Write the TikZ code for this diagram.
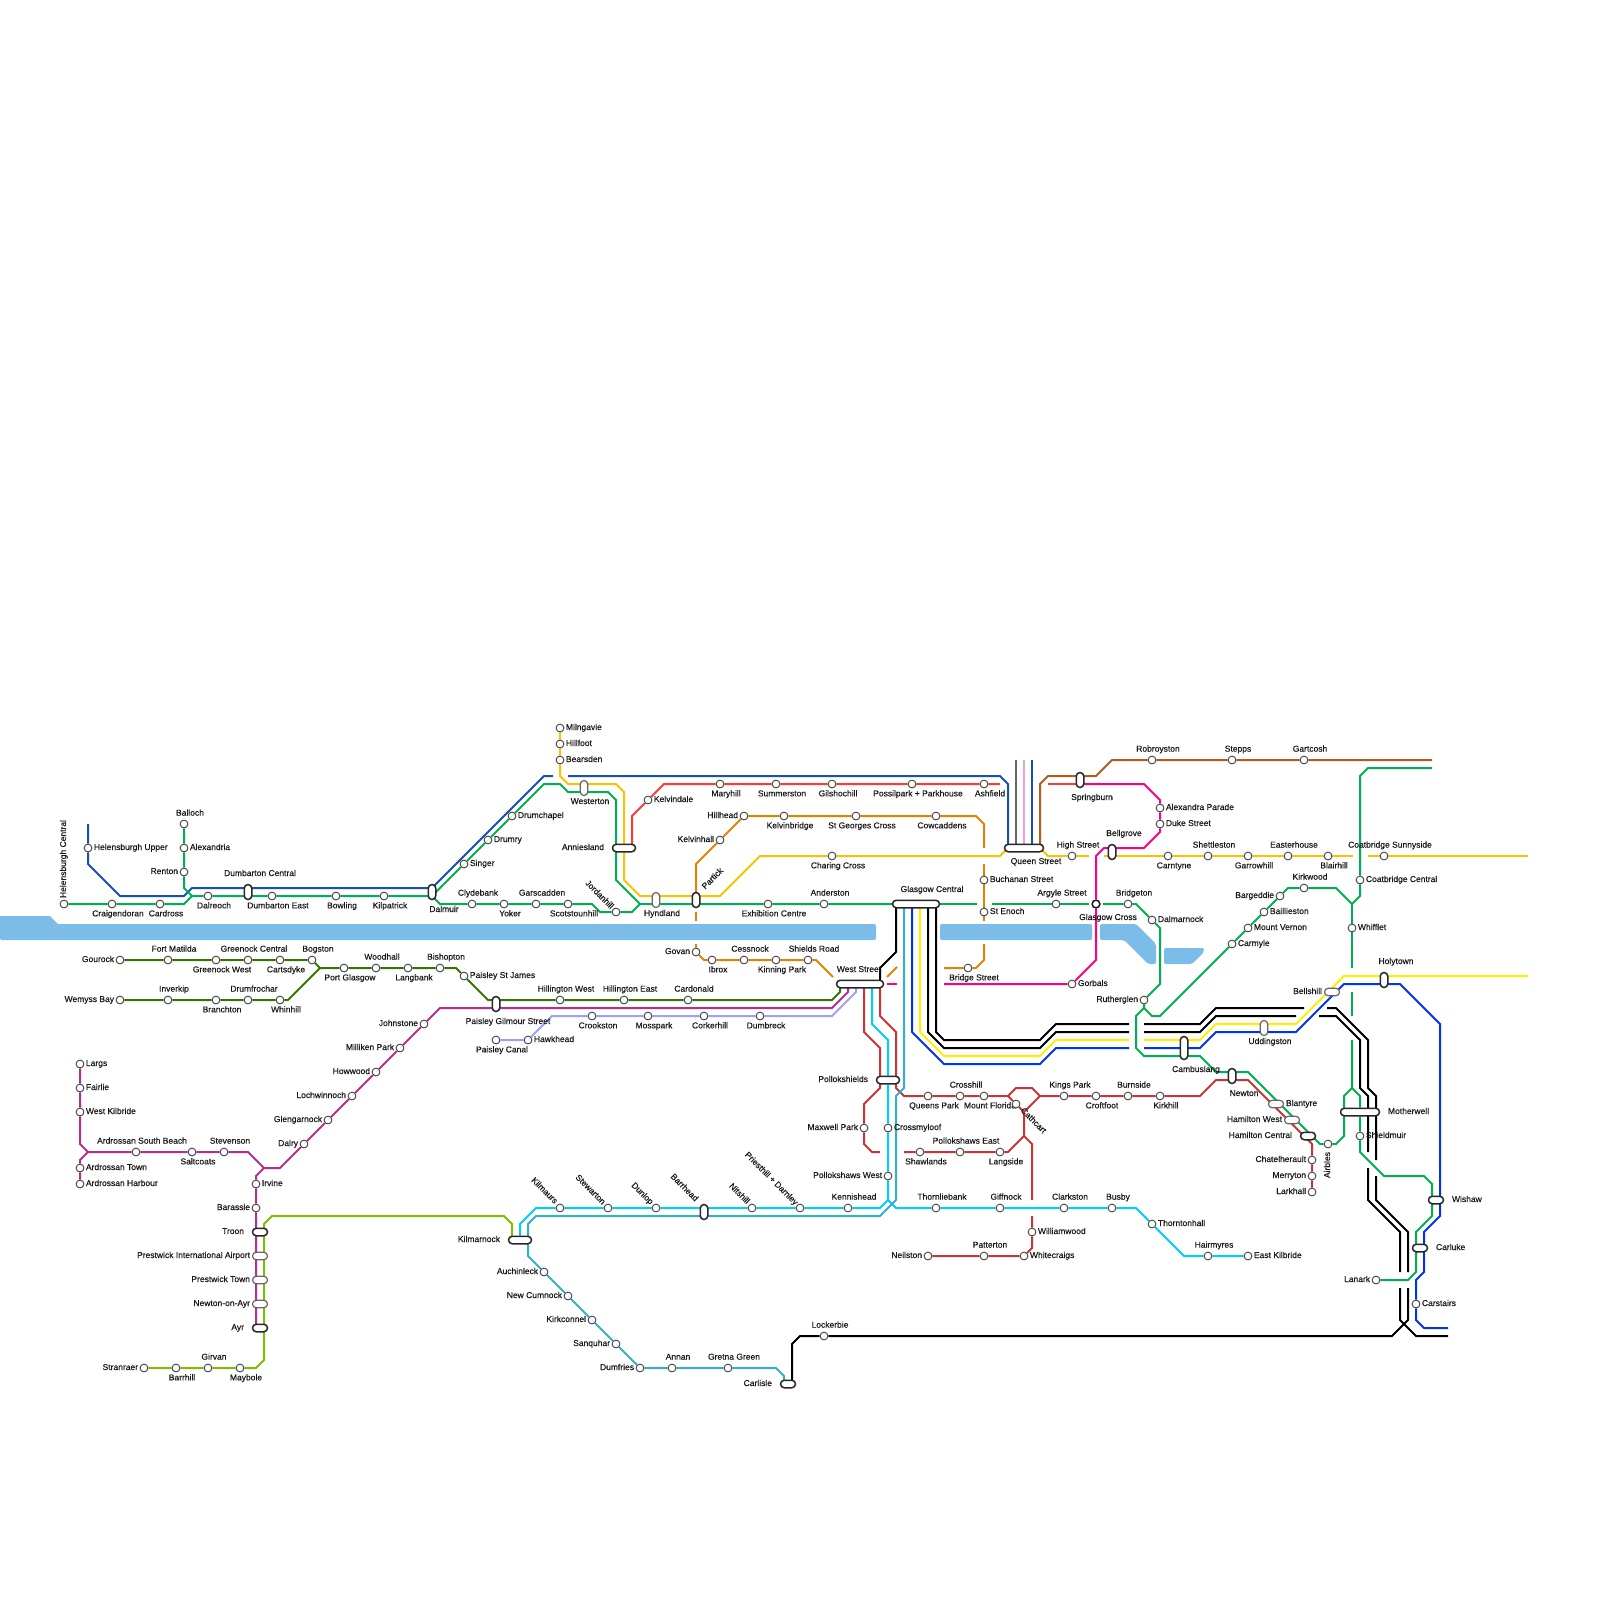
\documentclass[tikz,border=0pt]{standalone}
\usepackage{fontspec}
\setmainfont{Liberation Sans}
\newfontfamily\lblfont{Liberation Sans}[FakeBold=0.4]
\usetikzlibrary{calc, backgrounds}

\definecolor{waterC}{HTML}{7BBCE8}
\definecolor{greenM}{HTML}{00B050}
\definecolor{greenD}{HTML}{337700}
\definecolor{blueD}{HTML}{1450B8}
\definecolor{blueB}{HTML}{0033EE}
\definecolor{purpleM}{HTML}{B52E8C}
\definecolor{limeG}{HTML}{80BC00}
\definecolor{cyanL}{HTML}{00CCFF}
\definecolor{tealL}{HTML}{33AECC}
\definecolor{orangeL}{HTML}{E08400}
\definecolor{yellowO}{HTML}{FFC000}
\definecolor{yellowB}{HTML}{FFEE00}
\definecolor{redB}{HTML}{FF3B30}
\definecolor{redD}{HTML}{C93434}
\definecolor{pinkL}{HTML}{FF0080}
\definecolor{brownL}{HTML}{B85A1E}
\definecolor{periL}{HTML}{99A0FF}
\definecolor{lilacL}{HTML}{E8A0E0}
\definecolor{greyL}{HTML}{666666}

\begin{document}
\begin{tikzpicture}[x=1pt, y=-1pt,
  lbl/.style={font=\lblfont\fontsize{8.5}{9}\selectfont, inner sep=0, outer sep=0, yshift=-1,
              text height=6, text depth=2, text=black!90},
  stn/.style={circle, draw=black!75, line width=0.9, fill=white, inner sep=0,
              minimum size=7.8},
  lA/.style={label={[lbl, xshift=6, label distance=3]above:#1}},
  lB/.style={label={[lbl, xshift=6, label distance=1]below:#1}},
  lL/.style={label={[lbl, yshift=1, label distance=1.6]left:#1}},
  lR/.style={label={[lbl, yshift=1, label distance=1.6]right:#1}},
  pillK/.style={rectangle, rounded corners=3.7, draw=black!85, line width=1.5,
                fill=white, inner sep=0},
  pillG/.style={rectangle, rounded corners=3.7, draw=black!60, line width=1.2,
                fill=white, inner sep=0},
  hbar/.style={minimum width=#1, minimum height=7.5},
  vbar/.style={minimum width=7.5, minimum height=#1},
  ln/.style={draw=#1, line width=2}]
  \useasboundingbox (0,0) rectangle (1600,1600);

  % interchanges
  \node[pillK, vbar=15] (dumbC) at (248,892) {};
  \node[pillK, vbar=15] (dalmuir) at (432,892) {};
  \node[pillG, vbar=15] (westerton) at (584,788) {};
  \node[pillK, hbar=23] (anniesland) at (624,848) {};
  \node[pillG, vbar=15] (hyndland) at (656,900) {};
  \node[pillK, vbar=15] (partick) at (696,900) {};
  \node[pillK, hbar=47] (glasgowC) at (916,904) {};
  \node[pillK, hbar=47] (westSt) at (860,984) {};
  \node[pillK, hbar=39] (queenSt) at (1024,848) {};
  \node[pillK, vbar=15] (springburn) at (1080,780) {};
  \node[pillK, vbar=15] (bellgrove) at (1112,852) {};
  \node[pillK, vbar=15] (paisleyG) at (496,1004) {};
  \node[pillK, hbar=23] (pollokS) at (888,1080) {};
  \node[pillK, vbar=15] (barrhead) at (704,1212) {};
  \node[pillK, hbar=23] (kilmarnock) at (520,1240) {};
  \node[pillK, hbar=15] (carlisle) at (788,1384) {};
  \node[pillK, hbar=15] (troon) at (260,1232) {};
  \node[pillG, hbar=15] (prestI) at (260,1256) {};
  \node[pillG, hbar=15] (prestT) at (260,1280) {};
  \node[pillG, hbar=15] (newtonA) at (260,1304) {};
  \node[pillK, hbar=15] (ayr) at (260,1328) {};
  \node[pillG, hbar=15] (bellshill) at (1332,992) {};
  \node[pillK, vbar=15] (holytown) at (1384,980) {};
  \node[pillG, vbar=15] (uddingston) at (1264,1028) {};
  \node[pillK, vbar=23] (cambuslang) at (1184,1048) {};
  \node[pillK, vbar=15] (newton) at (1232,1076) {};
  \node[pillG, hbar=15] (blantyre) at (1276,1104) {};
  \node[pillG, hbar=15] (hamiltonW) at (1292,1120) {};
  \node[pillK, hbar=15] (hamiltonC) at (1308,1136) {};
  \node[pillK, hbar=39] (motherwell) at (1360,1112) {};
  \node[pillK, hbar=15] (wishaw) at (1436,1200) {};
  \node[pillK, hbar=15] (carluke) at (1420,1248) {};
  \node[stn, line width=1.5, draw=black!90] (glasgowX) at (1096,904) {};

  % interchange labels
  \node[lbl] (dumbCl) at (260,873) {Dumbarton Central};
  \node[lbl] (dalmuirl) at (444,909) {Dalmuir};
  \node[lbl] (westertonl) at (590,801) {Westerton};
  \node[lbl, anchor=east] (annieslandl) at (604,847) {Anniesland};
  \node[lbl] (hyndlandl) at (662,913) {Hyndland};
  \node[lbl, rotate=45] (partickl) at (713,878) {Partick};
  \node[lbl] (glasgowCl) at (932,889) {Glasgow Central};
  \node[lbl] (westStl) at (859,969) {West Street};
  \node[lbl] (queenStl) at (1036,861) {Queen Street};
  \node[lbl] (springburnl) at (1092,797) {Springburn};
  \node[lbl] (bellgrovel) at (1124,833) {Bellgrove};
  \node[lbl] (glasgowXl) at (1108,917) {Glasgow Cross};
  \node[lbl] (paisleyGl) at (508,1021) {Paisley Gilmour Street};
  \node[lbl, anchor=east] (pollokSl) at (868,1079) {Pollokshields};
  \node[lbl, rotate=-45] (barrheadl) at (684,1187) {Barrhead};
  \node[lbl, anchor=east] (kilmarnockl) at (500,1239) {Kilmarnock};
  \node[lbl, anchor=east] (carlislel) at (772,1383) {Carlisle};
  \node[lbl, anchor=east] (troonl) at (244,1231) {Troon};
  \node[lbl, anchor=east] (prestIl) at (250,1255) {Prestwick International Airport};
  \node[lbl, anchor=east] (prestTl) at (250,1279) {Prestwick Town};
  \node[lbl, anchor=east] (newtonAl) at (250,1303) {Newton-on-Ayr};
  \node[lbl, anchor=east] (ayrl) at (244,1327) {Ayr};
  \node[lbl, anchor=east] (bellshilll) at (1322,991) {Bellshill};
  \node[lbl] (holytownl) at (1396,961) {Holytown};
  \node[lbl] (uddingstonl) at (1270,1041) {Uddingston};
  \node[lbl] (cambuslangl) at (1196,1069) {Cambuslang};
  \node[lbl] (newtonl) at (1244,1093) {Newton};
  \node[lbl, anchor=west] (blantyrel) at (1286,1103) {Blantyre};
  \node[lbl, anchor=east] (hamiltonWl) at (1282,1119) {Hamilton West};
  \node[lbl, anchor=east] (hamiltonCl) at (1292,1135) {Hamilton Central};
  \node[lbl, anchor=west] (motherwelll) at (1388,1111) {Motherwell};
  \node[lbl, anchor=west] (wishawl) at (1452,1199) {Wishaw};
  \node[lbl, anchor=west] (carlukel) at (1436,1247) {Carluke};

  % north bank
  \node[stn] (helC) at (64,904) {};
  \node[lbl, rotate=90] (helCl) at (64,858) {Helensburgh Central};
  \node[stn, lR=Helensburgh Upper] (helU) at (88,848) {};
  \node[stn, lB=Craigendoran] (craig) at (112,904) {};
  \node[stn, lB=Cardross] (cardross) at (160,904) {};
  \node[stn, lA=Balloch] (balloch) at (184,824) {};
  \node[stn, lR=Alexandria] (alexandria) at (184,848) {};
  \node[stn, lL=Renton] (renton) at (184,872) {};
  \node[stn, lB=Dalreoch] (dalreoch) at (208,896) {};
  \node[stn, lB=Dumbarton East] (dumbE) at (272,896) {};
  \node[stn, lB=Bowling] (bowling) at (336,896) {};
  \node[stn, lB=Kilpatrick] (kilpatrick) at (384,896) {};
  \node[stn, lR=Singer] (singer) at (464,864) {};
  \node[stn, lR=Drumry] (drumry) at (488,840) {};
  \node[stn, lR=Drumchapel] (drumchapel) at (512,816) {};
  \node[stn, lA=Clydebank] (clydebank) at (472,904) {};
  \node[stn, lB=Yoker] (yoker) at (504,904) {};
  \node[stn, lA=Garscadden] (garscadden) at (536,904) {};
  \node[stn, lB=Scotstounhill] (scotstoun) at (568,904) {};
  \node[stn] (jordanhill) at (616,912) {};
  \node[lbl, rotate=-45] (jordanhilll) at (599,894) {Jordanhill};
  \node[stn, lR=Milngavie] (milngavie) at (560,728) {};
  \node[stn, lR=Hillfoot] (hillfoot) at (560,744) {};
  \node[stn, lR=Bearsden] (bearsden) at (560,760) {};
  \node[stn, lR=Kelvindale] (kelvindale) at (648,800) {};
  \node[stn, lB=Maryhill] (maryhill) at (720,784) {};
  \node[stn, lB=Summerston] (summerston) at (776,784) {};
  \node[stn, lB=Gilshochill] (gilshochill) at (832,784) {};
  \node[stn, lB=Possilpark + Parkhouse] (possilpark) at (912,784) {};
  \node[stn, lB=Ashfield] (ashfield) at (984,784) {};
  \node[stn, lL=Hillhead] (hillhead) at (744,816) {};
  \node[stn, lL=Kelvinhall] (kelvinhall) at (720,840) {};
  \node[stn, lB=Kelvinbridge] (kelvinbridge) at (784,816) {};
  \node[stn, lB=St Georges Cross] (stgeorges) at (856,816) {};
  \node[stn, lB=Cowcaddens] (cowcaddens) at (936,816) {};
  \node[stn, lB=Charing Cross] (charing) at (832,856) {};
  \node[stn, lB=Exhibition Centre] (exhibition) at (768,904) {};
  \node[stn, lA=Anderston] (anderston) at (824,904) {};
  \node[stn, lR=Buchanan Street] (buchanan) at (984,880) {};
  \node[stn, lR=St Enoch] (stenoch) at (984,912) {};
  \node[stn, lA=Argyle Street] (argyle) at (1056,904) {};
  \node[stn, lA=High Street] (highSt) at (1072,856) {};
  \node[stn, lB=Carntyne] (carntyne) at (1168,856) {};
  \node[stn, lA=Shettleston] (shettleston) at (1208,856) {};
  \node[stn, lB=Garrowhill] (garrowhill) at (1248,856) {};
  \node[stn, lA=Easterhouse] (easterhouse) at (1288,856) {};
  \node[stn, lB=Blairhill] (blairhill) at (1328,856) {};
  \node[stn, lA=Coatbridge Sunnyside] (sunnyside) at (1384,856) {};
  \node[stn, lA=Robroyston] (robroyston) at (1152,760) {};
  \node[stn, lA=Stepps] (stepps) at (1232,760) {};
  \node[stn, lA=Gartcosh] (gartcosh) at (1304,760) {};
  \node[stn, lR=Alexandra Parade] (alexandra) at (1160,808) {};
  \node[stn, lR=Duke Street] (duke) at (1160,824) {};
  \node[stn, lA=Bridgeton] (bridgeton) at (1128,904) {};
  \node[stn, lR=Dalmarnock] (dalmarnock) at (1152,920) {};
  \node[stn, lA=Kirkwood] (kirkwood) at (1304,888) {};
  \node[stn, lL=Bargeddie] (bargeddie) at (1280,896) {};
  \node[stn, lR=Baillieston] (baillieston) at (1264,912) {};
  \node[stn, lR=Mount Vernon] (mountV) at (1248,928) {};
  \node[stn, lR=Carmyle] (carmyle) at (1232,944) {};
  \node[stn, lR=Coatbridge Central] (coatbridgeC) at (1360,880) {};
  \node[stn, lR=Whifflet] (whifflet) at (1352,928) {};

  % south bank
  \node[stn, lL=Gourock] (gourock) at (120,960) {};
  \node[stn, lA=Fort Matilda] (fortM) at (168,960) {};
  \node[stn, lB=Greenock West] (greenockW) at (216,960) {};
  \node[stn, lA=Greenock Central] (greenockC) at (248,960) {};
  \node[stn, lB=Cartsdyke] (cartsdyke) at (280,960) {};
  \node[stn, lA=Bogston] (bogston) at (312,960) {};
  \node[stn, lB=Port Glasgow] (portG) at (344,968) {};
  \node[stn, lA=Woodhall] (woodhall) at (376,968) {};
  \node[stn, lB=Langbank] (langbank) at (408,968) {};
  \node[stn, lA=Bishopton] (bishopton) at (440,968) {};
  \node[stn, lR=Paisley St James] (paisleyJ) at (464,976) {};
  \node[stn, lL=Wemyss Bay] (wemyss) at (120,1000) {};
  \node[stn, lA=Inverkip] (inverkip) at (168,1000) {};
  \node[stn, lB=Branchton] (branchton) at (216,1000) {};
  \node[stn, lA=Drumfrochar] (drumfrochar) at (248,1000) {};
  \node[stn, lB=Whinhill] (whinhill) at (280,1000) {};
  \node[stn, lA=Hillington West] (hillW) at (560,1000) {};
  \node[stn, lA=Hillington East] (hillE) at (624,1000) {};
  \node[stn, lA=Cardonald] (cardonald) at (688,1000) {};
  \node[stn, lB=Paisley Canal] (paisleyC) at (496,1040) {};
  \node[stn, lR=Hawkhead] (hawkhead) at (528,1040) {};
  \node[stn, lB=Crookston] (crookston) at (592,1016) {};
  \node[stn, lB=Mosspark] (mosspark) at (648,1016) {};
  \node[stn, lB=Corkerhill] (corkerhill) at (704,1016) {};
  \node[stn, lB=Dumbreck] (dumbreck) at (760,1016) {};
  \node[stn, lL=Govan] (govan) at (696,952) {};
  \node[stn, lB=Ibrox] (ibrox) at (712,960) {};
  \node[stn, lA=Cessnock] (cessnock) at (744,960) {};
  \node[stn, lB=Kinning Park] (kinningP) at (776,960) {};
  \node[stn, lA=Shields Road] (shieldsR) at (808,960) {};
  \node[stn, lB=Bridge Street] (bridgeSt) at (968,968) {};
  \node[stn, lR=Gorbals] (gorbals) at (1072,984) {};
  \node[stn, lL=Rutherglen] (rutherglen) at (1144,1000) {};
  \node[stn, lL=Johnstone] (johnstone) at (424,1024) {};
  \node[stn, lL=Milliken Park] (milliken) at (400,1048) {};
  \node[stn, lL=Howwood] (howwood) at (376,1072) {};
  \node[stn, lL=Lochwinnoch] (lochwinnoch) at (352,1096) {};
  \node[stn, lL=Glengarnock] (glengarnock) at (328,1120) {};
  \node[stn, lL=Dalry] (dalry) at (304,1144) {};
  \node[stn, lR=Largs] (largs) at (80,1064) {};
  \node[stn, lR=Fairlie] (fairlie) at (80,1088) {};
  \node[stn, lR=West Kilbride] (westK) at (80,1112) {};
  \node[stn, lA=Ardrossan South Beach] (ardrossanS) at (136,1152) {};
  \node[stn, lB=Saltcoats] (saltcoats) at (192,1152) {};
  \node[stn, lA=Stevenson] (stevenson) at (224,1152) {};
  \node[stn, lR=Ardrossan Town] (ardrossanT) at (80,1168) {};
  \node[stn, lR=Ardrossan Harbour] (ardrossanH) at (80,1184) {};
  \node[stn, lR=Irvine] (irvine) at (256,1184) {};
  \node[stn, lL=Barassie] (barassie) at (256,1208) {};
  \node[stn, lL=Stranraer] (stranraer) at (144,1368) {};
  \node[stn, lB=Barrhill] (barrhill) at (176,1368) {};
  \node[stn, lA=Girvan] (girvan) at (208,1368) {};
  \node[stn, lB=Maybole] (maybole) at (240,1368) {};
  \node[stn] (kilmaurs) at (560,1208) {};
  \node[lbl, rotate=-45] (kilmaursl) at (544,1190) {Kilmaurs};
  \node[stn] (stewarton) at (608,1208) {};
  \node[lbl, rotate=-45] (stewartonl) at (590,1189) {Stewarton};
  \node[stn] (dunlop) at (656,1208) {};
  \node[lbl, rotate=-45] (dunlopl) at (642,1193) {Dunlop};
  \node[stn] (nitshill) at (752,1208) {};
  \node[lbl, rotate=-45] (nitshilll) at (739,1193) {Nitshill};
  \node[stn] (priesthill) at (800,1208) {};
  \node[lbl, rotate=-45] (priesthilll) at (771,1178) {Priesthill + Darnley};
  \node[stn, lA=Kennishead] (kennishead) at (848,1208) {};
  \node[stn, lL=Auchinleck] (auchinleck) at (544,1272) {};
  \node[stn, lL=New Cumnock] (cumnock) at (568,1296) {};
  \node[stn, lL=Kirkconnel] (kirkconnel) at (592,1320) {};
  \node[stn, lL=Sanquhar] (sanquhar) at (616,1344) {};
  \node[stn, lL=Dumfries] (dumfries) at (640,1368) {};
  \node[stn, lA=Annan] (annan) at (672,1368) {};
  \node[stn, lA=Gretna Green] (gretna) at (728,1368) {};
  \node[stn, lA=Lockerbie] (lockerbie) at (824,1336) {};
  \node[stn, lB=Queens Park] (queensP) at (928,1096) {};
  \node[stn, lA=Crosshill] (crosshill) at (960,1096) {};
  \node[stn, lB=Mount Florida] (mountF) at (984,1096) {};
  \node[stn] (cathcart) at (1016,1104) {};
  \node[lbl, rotate=-45] (cathcartl) at (1033,1120) {Cathcart};
  \node[stn, lA=Kings Park] (kingsP) at (1064,1096) {};
  \node[stn, lB=Croftfoot] (croftfoot) at (1096,1096) {};
  \node[stn, lA=Burnside] (burnside) at (1128,1096) {};
  \node[stn, lB=Kirkhill] (kirkhill) at (1160,1096) {};
  \node[stn, lL=Maxwell Park] (maxwellP) at (864,1128) {};
  \node[stn, lR=Crossmyloof] (crossmyloof) at (888,1128) {};
  \node[stn, lL=Pollokshaws West] (pollokW) at (888,1176) {};
  \node[stn, lB=Shawlands] (shawlands) at (920,1152) {};
  \node[stn, lA=Pollokshaws East] (pollokE) at (960,1152) {};
  \node[stn, lB=Langside] (langside) at (1000,1152) {};
  \node[stn, lA=Thornliebank] (thornliebank) at (936,1208) {};
  \node[stn, lA=Giffnock] (giffnock) at (1000,1208) {};
  \node[stn, lA=Clarkston] (clarkston) at (1064,1208) {};
  \node[stn, lA=Busby] (busby) at (1112,1208) {};
  \node[stn, lR=Thorntonhall] (thorntonhall) at (1152,1224) {};
  \node[stn, lA=Hairmyres] (hairmyres) at (1208,1256) {};
  \node[stn, lR=East Kilbride] (eastK) at (1248,1256) {};
  \node[stn, lL=Neilston] (neilston) at (928,1256) {};
  \node[stn, lA=Patterton] (patterton) at (984,1256) {};
  \node[stn, lR=Whitecraigs] (whitecraigs) at (1024,1256) {};
  \node[stn, lR=Williamwood] (williamwood) at (1032,1232) {};
  \node[stn] (airbles) at (1328,1144) {};
  \node[lbl, rotate=90] (airblesl) at (1328,1164) {Airbles};
  \node[stn, lL=Chatelherault] (chatelherault) at (1312,1160) {};
  \node[stn, lL=Merryton] (merryton) at (1312,1176) {};
  \node[stn, lL=Larkhall] (larkhall) at (1312,1192) {};
  \node[stn, lR=Shieldmuir] (shieldmuir) at (1360,1136) {};
  \node[stn, lL=Lanark] (lanark) at (1376,1280) {};
  \node[stn, lR=Carstairs] (carstairs) at (1416,1304) {};

  % free ends of the lines
  \coordinate (helTop) at (88,824);
  \coordinate (blueGapW) at (553,776);
  \coordinate (blueGapE) at (568,776);
  \coordinate (greyTop) at (1016,760);
  \coordinate (lilacTop) at (1024,760);
  \coordinate (blueTop) at (1032,760);
  \coordinate (brownEnd) at (1432,760);
  \coordinate (greenTop) at (1432,768);
  \coordinate (redEnd) at (1000,784);
  \coordinate (redStart) at (1048,784);
  \coordinate (cowEnd) at (984,848);
  \coordinate (buchTop) at (984,864);
  \coordinate (enochEnd) at (984,921);
  \coordinate (bridgeTop) at (984,944);
  \coordinate (bridgeEnd) at (944,968);
  \coordinate (orgA) at (887,977);
  \coordinate (orgB) at (897,967);
  \coordinate (orgC) at (833,977);
  \coordinate (partickTop) at (696,912);
  \coordinate (partickEnd) at (696,921);
  \coordinate (govanTop) at (696,944);
  \coordinate (pinkA) at (887,984);
  \coordinate (pinkB) at (897,984);
  \coordinate (pinkC) at (944,984);
  \coordinate (highEnd) at (1089,856);
  \coordinate (bellStart) at (1104,856);
  \coordinate (blairEnd) at (1353,856);
  \coordinate (sunnyStart) at (1368,856);
  \coordinate (sunnyEnd) at (1528,856);
  \coordinate (holyEnd) at (1528,976);
  \coordinate (centE) at (977,904);
  \coordinate (argyleW) at (992,904);
  \coordinate (argyleE) at (1089,904);
  \coordinate (bridgetonW) at (1103,904);
  \coordinate (whiffEnd) at (1352,968);
  \coordinate (dashA) at (1352,992);
  \coordinate (dashB) at (1352,1016);
  \coordinate (dashC) at (1352,1040);
  \coordinate (ka) at (1129,1024);
  \coordinate (kb) at (1129,1032);
  \coordinate (ya) at (1129,1040);
  \coordinate (ba) at (1129,1048);
  \coordinate (kaE) at (1144,1024);
  \coordinate (kbE) at (1144,1032);
  \coordinate (yaE) at (1144,1040);
  \coordinate (baE) at (1144,1048);
  \coordinate (kaF) at (1304,1008);
  \coordinate (kbF) at (1296,1016);
  \coordinate (kaG) at (1327,1008);
  \coordinate (kbG) at (1319,1016);
  \coordinate (kaH) at (1376,1160);
  \coordinate (kbH) at (1368,1152);
  \coordinate (kaI) at (1376,1176);
  \coordinate (kbI) at (1368,1168);
  \coordinate (kaJ) at (1408,1272);
  \coordinate (kbJ) at (1400,1272);
  \coordinate (kaK) at (1408,1288);
  \coordinate (kbK) at (1400,1288);
  \coordinate (blackEnd) at (1448,1336);
  \coordinate (blueEnd) at (1448,1328);
  \coordinate (maxEnd) at (880,1152);
  \coordinate (shawEnd) at (904,1152);
  \coordinate (wwTop) at (1032,1216);
  \coordinate (cathEnd) at (1032,1200);

  \begin{scope}[on background layer]
    % water
    \fill[waterC] (0,916) -- (50,916) -- (58,924) [rounded corners=2] -- (876,924) -- (876,940) -- (0,940) [sharp corners] -- cycle;
    \fill[waterC, rounded corners=2] (940,924) rectangle (1092,940);
    \fill[waterC, rounded corners=2] (1100,924) -- (1136,924) -- (1156,944) -- (1156,964) -- (1148,964) -- (1124,940) -- (1100,940) -- cycle;
    \fill[waterC, rounded corners=2] (1164,948) -- (1204,948) -- (1204,952) -- (1192,964) -- (1164,964) -- cycle;

    % west and north
    \draw[ln=blueD] (helTop) -- (helU) -- (88,864) -- (120,896) -- (184,896) -- (192,888) -- ($(dumbC)+(0,-4)$) -- ($(dalmuir)+(0,-4)$) -- (544,776) -- (blueGapW);
    \draw[ln=blueD] (blueGapE) -- (1000,776) -- (1008,784) -- ($(queenSt)+(-16,0)$);
    \draw[ln=greenM] (balloch) -- (alexandria) -- (renton) -- (184,888) -- (192,896);
    \draw[ln=greenM] (helC) -- (craig) -- (cardross) -- (184,904) -- (192,896) -- (dalreoch) -- ($(dumbC)+(0,4)$) -- (dumbE) -- (bowling) -- (kilpatrick) -- ($(dalmuir)+(0,4)$) -- (singer) -- (drumry) -- (drumchapel) -- (544,784) -- (560,784) -- (568,792) -- ($(westerton)+(0,4)$) -- (608,792) -- (616,800) -- ($(anniesland)+(-8,0)$) -- (616,880) -- (640,904) -- ($(hyndland)+(0,4)$) -- ($(partick)+(0,4)$) -- (exhibition) -- (anderston) -- (glasgowC);
    \draw[ln=greenM] ($(dalmuir)+(0,4)$) -- (440,904) -- (clydebank) -- (yoker) -- (garscadden) -- (scotstoun) -- (592,904) -- (600,912) -- (jordanhill) -- (632,912) -- (640,904);
    \draw[ln=yellowO] (milngavie) -- (hillfoot) -- (bearsden) -- (560,776) -- (568,784) -- ($(westerton)+(0,-4)$) -- (616,784) -- (624,792) -- (anniesland) -- (624,880) -- (640,896) -- ($(hyndland)+(0,-4)$) -- ($(partick)+(0,-4)$) -- (720,896) -- (760,856) -- (charing) -- (1000,856) -- (1008,848) -- ($(queenSt)+(16,0)$) -- (1048,856) -- (highSt) -- (highEnd);
    \draw[ln=yellowO] (bellStart) -- ($(bellgrove)+(0,4)$) -- (carntyne) -- (shettleston) -- (garrowhill) -- (easterhouse) -- (blairhill) -- (blairEnd);
    \draw[ln=yellowO] (sunnyStart) -- (sunnyside) -- (sunnyEnd);
    \draw[ln=redB] ($(anniesland)+(8,0)$) -- (632,816) -- (kelvindale) -- (664,784) -- (maryhill) -- (summerston) -- (gilshochill) -- (possilpark) -- (ashfield) -- (redEnd);
    \draw[ln=redB] (redStart) -- ($(springburn)+(0,4)$);
    \draw[ln=orangeL] (partick) -- (696,864) -- (kelvinhall) -- (hillhead) -- (kelvinbridge) -- (stgeorges) -- (cowcaddens) -- (976,816) -- (984,824) -- (cowEnd);
    \draw[ln=orangeL] (buchTop) -- (buchanan) -- (stenoch) -- (enochEnd);
    \draw[ln=orangeL] (bridgeTop) -- (984,960) -- (976,968) -- (bridgeSt) -- (bridgeEnd);
    \draw[ln=orangeL] (orgA) -- (orgB);
    \draw[ln=orangeL] (partickTop) -- (partickEnd);
    \draw[ln=orangeL] (govanTop) -- (govan) -- (704,960) -- (ibrox) -- (cessnock) -- (kinningP) -- (shieldsR) -- (816,960) -- (orgC);
    \draw[ln=greyL] (greyTop) -- ($(queenSt)+(-8,0)$);
    \draw[ln=lilacL] (lilacTop) -- (queenSt);
    \draw[ln=blueD] (blueTop) -- ($(queenSt)+(8,0)$);
    \draw[ln=brownL] ($(queenSt)+(16,0)$) -- (1040,784) -- (1048,776) -- ($(springburn)+(0,-4)$) -- (1096,776) -- (1112,760) -- (robroyston) -- (stepps) -- (gartcosh) -- (brownEnd);
    \draw[ln=pinkL] ($(springburn)+(0,4)$) -- (1144,784) -- (1160,800) -- (alexandra) -- (duke) -- (1160,832) -- (1144,848) -- ($(bellgrove)+(0,-4)$) -- (1104,848) -- (1096,856) -- (glasgowX) -- (1096,960) -- (gorbals) -- (pinkC);
    \draw[ln=pinkL] (pinkA) -- (pinkB);
    \draw[ln=greenM] (glasgowC) -- (centE);
    \draw[ln=greenM] (argyleW) -- (argyle) -- (argyleE);
    \draw[ln=greenM] (bridgetonW) -- (bridgeton) -- (1136,904) -- (dalmarnock) -- (1160,928) -- (1160,984) -- (rutherglen) -- (1144,1008) -- (1136,1016) -- (1136,1048) -- (1144,1056) -- ($(cambuslang)+(0,8)$) -- (1200,1056) -- (1216,1072) -- ($(newton)+(0,-4)$) -- (1248,1072) -- (1320,1144) -- (airbles) -- (1336,1144) -- (1344,1136) -- ($(motherwell)+(-16,0)$) -- (1344,1096) -- (1352,1088) -- (dashC);
    \draw[ln=greenM] (rutherglen) -- (1144,1008) -- (1152,1016) -- (1160,1016) -- (carmyle) -- (mountV) -- (baillieston) -- (bargeddie) -- (1288,888) -- (kirkwood) -- (1336,888) -- (1352,904) -- (1360,896) -- (coatbridgeC) -- (1360,776) -- (1368,768) -- (greenTop);
    \draw[ln=greenM] (1352,904) -- (whifflet) -- (whiffEnd);
    \draw[ln=greenM] (dashA) -- (dashB);
    \draw[ln=greenM] (1352,1088) -- (1360,1096) -- (motherwell) -- (shieldmuir) -- (1360,1152) -- (1384,1176) -- (1424,1176) -- (1432,1184) -- ($(wishaw)+(-4,0)$) -- (1432,1216) -- (1416,1232) -- ($(carluke)+(-4,0)$) -- (1416,1272) -- (1408,1280) -- (lanark);

    % clyde coast
    \draw[ln=greenD] (gourock) -- (fortM) -- (greenockW) -- (greenockC) -- (cartsdyke) -- (bogston) -- (320,968) -- (portG) -- (woodhall) -- (langbank) -- (bishopton) -- (456,968) -- (paisleyJ) -- (488,1000) -- ($(paisleyG)+(0,-4)$) -- (hillW) -- (hillE) -- (cardonald) -- (832,1000) -- (840,992) -- ($(westSt)+(-20,0)$);
    \draw[ln=greenD] (wemyss) -- (inverkip) -- (branchton) -- (drumfrochar) -- (whinhill) -- (288,1000) -- (320,968);
    \draw[ln=purpleM] ($(westSt)+(-12,0)$) -- (848,992) -- (832,1008) -- ($(paisleyG)+(0,4)$) -- (440,1008) -- (johnstone) -- (milliken) -- (howwood) -- (lochwinnoch) -- (glengarnock) -- (dalry) -- (280,1168) -- (264,1168) -- (248,1152) -- (stevenson) -- (saltcoats) -- (ardrossanS) -- (88,1152) -- (80,1144) -- (westK) -- (fairlie) -- (largs);
    \draw[ln=purpleM] (88,1152) -- (80,1160) -- (ardrossanT) -- (ardrossanH);
    \draw[ln=purpleM] (264,1168) -- (256,1176) -- (irvine) -- (barassie) -- ($(troon)+(-4,0)$) -- ($(ayr)+(-4,0)$);
    \draw[ln=periL] (paisleyC) -- (hawkhead) -- (552,1016) -- (crookston) -- (mosspark) -- (corkerhill) -- (dumbreck) -- (832,1016) -- (856,992) -- ($(westSt)+(-4,0)$);
    \draw[ln=limeG] ($(kilmarnock)+(-8,0)$) -- (512,1224) -- (504,1216) -- (272,1216) -- (264,1224) -- ($(troon)+(4,0)$) -- ($(ayr)+(4,0)$) -- (264,1360) -- (256,1368) -- (maybole) -- (girvan) -- (barrhill) -- (stranraer);

    % city lines going south
    \draw[ln=redD] ($(westSt)+(20,0)$) -- (880,1016) -- (896,1032) -- ($(pollokS)+(8,0)$) -- (896,1088) -- (904,1096) -- (queensP) -- (crosshill) -- (mountF) -- (1008,1096) -- (1016,1088) -- (1032,1088) -- (1040,1096) -- (kingsP) -- (croftfoot) -- (burnside) -- (kirkhill) -- (1200,1096) -- (1216,1080) -- ($(newton)+(0,4)$) -- (1248,1080) -- (1312,1144) -- (chatelherault) -- (merryton) -- (larkhall);
    \draw[ln=redD] (1008,1096) -- (cathcart) -- (1024,1112) -- (1040,1096);
    \draw[ln=redD] (1024,1112) -- (1024,1136) -- (1008,1152) -- (langside) -- (pollokE) -- (shawlands) -- (shawEnd);
    \draw[ln=redD] (1024,1136) -- (1032,1144) -- (cathEnd);
    \draw[ln=redD] (wwTop) -- (williamwood) -- (1032,1248) -- (whitecraigs) -- (patterton) -- (neilston);
    \draw[ln=redD] ($(westSt)+(4,0)$) -- (864,1032) -- (880,1048) -- ($(pollokS)+(-8,0)$) -- (880,1088) -- (864,1104) -- (maxwellP) -- (864,1144) -- (872,1152) -- (maxEnd);
    \draw[ln=cyanL] ($(westSt)+(12,0)$) -- (872,1024) -- (888,1040) -- (pollokS) -- (crossmyloof) -- (pollokW) -- (888,1200) -- (880,1208) -- (kennishead) -- (priesthill) -- (nitshill) -- ($(barrhead)+(0,-4)$) -- (dunlop) -- (stewarton) -- (kilmaurs) -- (536,1208) -- (520,1224) -- (kilmarnock);
    \draw[ln=cyanL] (888,1200) -- (896,1208) -- (thornliebank) -- (giffnock) -- (clarkston) -- (busby) -- (1136,1208) -- (thorntonhall) -- (1184,1256) -- (hairmyres) -- (eastK);
    \draw[ln=tealL] ($(glasgowC)+(-12,0)$) -- (904,1088) -- (896,1096) -- (896,1200) -- (880,1216) -- ($(barrhead)+(0,4)$) -- (536,1216) -- (528,1224) -- ($(kilmarnock)+(8,0)$) -- (528,1256) -- (auchinleck) -- (cumnock) -- (kirkconnel) -- (sanquhar) -- (dumfries) -- (annan) -- (gretna) -- (776,1368) -- (784,1376) -- ($(carlisle)+(-4,0)$);

    % main line east
    \draw[ln=black] ($(glasgowC)+(-20,0)$) -- (896,952) -- (880,968) -- ($(westSt)+(20,0)$);
    \draw[ln=blueB] ($(glasgowC)+(-4,0)$) -- (912,1032) -- (944,1064) -- (1040,1064) -- (1056,1048) -- (ba);
    \draw[ln=yellowB] ($(glasgowC)+(4,0)$) -- (920,1032) -- (944,1056) -- (1040,1056) -- (1056,1040) -- (ya);
    \draw[ln=black] ($(glasgowC)+(12,0)$) -- (928,1032) -- (944,1048) -- (1040,1048) -- (1056,1032) -- (kb);
    \draw[ln=black] ($(glasgowC)+(20,0)$) -- (936,1032) -- (944,1040) -- (1040,1040) -- (1056,1024) -- (ka);
    \draw[ln=black] (kaE) -- (1200,1024) -- (1216,1008) -- (kaF);
    \draw[ln=black] (kbE) -- (1200,1032) -- (1216,1016) -- (kbF);
    \draw[ln=yellowB] (yaE) -- (1200,1040) -- (1216,1024) -- ($(uddingston)+(0,-4)$) -- (1296,1024) -- (1344,976) -- ($(holytown)+(0,-4)$) -- (holyEnd);
    \draw[ln=blueB] (baE) -- (1200,1048) -- (1216,1032) -- ($(uddingston)+(0,4)$) -- (1296,1032) -- (1344,984) -- ($(holytown)+(0,4)$) -- (1400,984) -- (1440,1024) -- ($(wishaw)+(4,0)$) -- (1440,1216) -- (1424,1232) -- ($(carluke)+(4,0)$) -- (1424,1272) -- (1416,1280) -- (carstairs) -- (1416,1320) -- (1424,1328) -- (blueEnd);
    \draw[ln=black] (kaG) -- (1336,1008) -- (1368,1040) -- (1368,1088) -- (1376,1096) -- ($(motherwell)+(16,0)$) -- (kaH);
    \draw[ln=black] (kbG) -- (1336,1016) -- (1360,1040) -- (1360,1088) -- (1368,1096) -- ($(motherwell)+(8,0)$) -- (kbH);
    \draw[ln=black] (kaI) -- (1376,1200) -- (1408,1232) -- (kaJ);
    \draw[ln=black] (kbI) -- (1368,1200) -- (1400,1232) -- (kbJ);
    \draw[ln=black] ($(carlisle)+(4,0)$) -- (792,1344) -- (800,1336) -- (lockerbie) -- (1392,1336) -- (1408,1320) -- (kaK);
    \draw[ln=black] (blackEnd) -- (1416,1336) -- (1400,1320) -- (kbK);
  \end{scope}
\end{tikzpicture}
\end{document}
